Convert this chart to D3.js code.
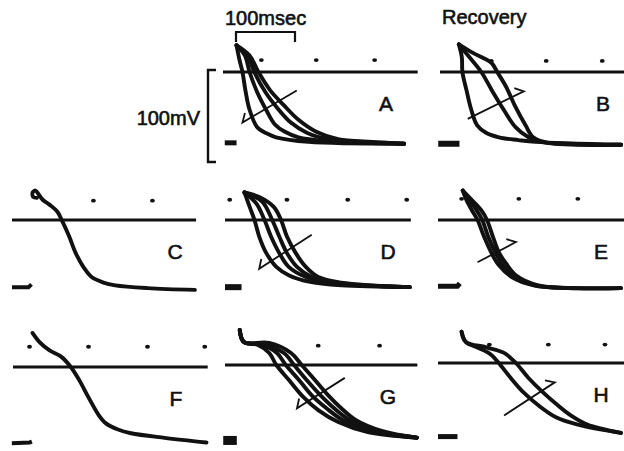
<!DOCTYPE html>
<html>
<head>
<meta charset="utf-8">
<script src="https://cdn.jsdelivr.net/npm/d3@7"></script>
<style>
  html, body { margin: 0; padding: 0; background: #fff; }
  svg { display: block; }
  text { font-family: "Liberation Sans", Arial, sans-serif; fill: #111; stroke: #111; stroke-width: 0.6px; }
</style>
</head>
<body>
<div id="chart"></div>
<script>
// panel names
const panelNames = ["A", "B", "C", "D", "E", "F", "G", "H"];

// action potential traces, [time ms, membrane potential mV]
const tracesA = [
  [[23, 29], [28, 13], [33, 0], [38, -20], [45, -41], [58, -60], [75, -67], [90, -71], [145, -76], [307, -78]],
  [[23, 29], [37, 18], [45, 0], [58, -22], [73, -41], [88, -57], [105, -65], [128, -71], [178, -75], [307, -78]],
  [[23, 29], [42, 17], [53, 0], [72, -22], [92, -39], [115, -55], [142, -66], [178, -73], [245, -76], [307, -78]],
  [[23, 29], [45, 18], [60, 0], [80, -20], [103, -36], [128, -52], [158, -65], [195, -73], [253, -76], [307, -78]]
];
const tracesB = [
  [[32, 30], [37, 16], [38, 0], [45, -20], [53, -41], [63, -58], [78, -66], [100, -71], [133, -74], [162, -76], [307, -79]],
  [[32, 30], [50, 16], [70, 0], [88, -20], [108, -41], [128, -60], [150, -71], [172, -76], [307, -79]],
  [[32, 30], [55, 21], [87, 10], [97, 0], [112, -16], [128, -38], [145, -58], [158, -71], [183, -77], [307, -79]]
];
const tracesC = [
  [[42, 24], [36, 25], [35, 30], [40, 32], [45, 28], [52, 22], [63, 17], [77, 9], [85, -1], [97, -18], [108, -36], [122, -52], [135, -62], [155, -68], [175, -71], [230, -74], [310, -76]]
];
const tracesD = [
  [[33, 30], [42, 14], [50, 0], [58, -18], [70, -36], [87, -51], [108, -60], [142, -67], [197, -71], [313, -73]],
  [[33, 30], [53, 18], [67, 0], [78, -18], [92, -36], [108, -51], [137, -62], [175, -68], [313, -73]],
  [[33, 30], [63, 20], [80, 0], [92, -18], [105, -36], [122, -51], [147, -62], [183, -68], [313, -73]],
  [[33, 30], [58, 25], [83, 14], [95, 0], [105, -18], [120, -36], [137, -51], [158, -62], [197, -68], [313, -73]]
];
const tracesE = [
  [[42, 32], [48, 22], [57, 11], [67, 0], [78, -18], [90, -35], [103, -49], [125, -62], [162, -71], [220, -74], [310, -74]],
  [[42, 32], [52, 22], [65, 11], [75, 0], [85, -18], [97, -35], [110, -49], [128, -61], [165, -71], [228, -74], [310, -74]],
  [[42, 32], [57, 22], [73, 11], [83, 0], [93, -18], [103, -35], [115, -47], [132, -60], [170, -71], [237, -74], [310, -74]]
];
const tracesF = [
  [[33, 37], [45, 27], [62, 18], [82, 11], [98, 0], [112, -14], [128, -33], [145, -52], [157, -61], [178, -68], [200, -72], [257, -77], [328, -82]]
];
const tracesG = [
  [[25, 38], [32, 25], [55, 22], [75, 13], [87, 0], [108, -16], [133, -35], [158, -49], [192, -62], [242, -73], [325, -79]],
  [[25, 38], [32, 25], [62, 22], [88, 13], [103, 0], [125, -16], [147, -33], [172, -47], [200, -60], [250, -72], [325, -79]],
  [[25, 38], [32, 25], [68, 22], [100, 13], [117, 0], [138, -16], [162, -33], [185, -47], [212, -60], [258, -72], [325, -79]],
  [[25, 38], [32, 25], [75, 24], [112, 13], [130, 0], [152, -16], [175, -33], [197, -47], [222, -60], [267, -72], [325, -79]]
];
const tracesH = [
  [[40, 34], [47, 23], [70, 16], [90, 9], [103, 0], [123, -16], [145, -32], [170, -46], [200, -59], [237, -67], [310, -76]],
  [[40, 34], [47, 23], [82, 17], [112, 11], [132, 0], [153, -16], [178, -32], [203, -46], [225, -57], [253, -67], [310, -76]]
];

// timer marks (ms) and their level (mV)
const marksA = [65, 158, 257];
const marksB = [87, 180, 275];
const marksC = [138, 238];
const marksD = [8, 105, 208, 308];
const marksE = [40, 137, 237];
const marksF = [28, 128, 228, 325];
const marksG = [158, 262];
const marksH = [87, 187, 283];
const markLevels = [13, 12, 21, 22, 23, 22, 21, 20];

// resting potential marks at the left of each sweep
const restA = [[3, -77], [23, -77]];
const restB = [[-3, -78], [33, -78]];
const restC = [[0, -73], [28, -73], [33, -70]];
const restD = [[0, -73], [28, -73]];
const restE = [[0, -72], [33, -72], [37, -69]];
const restF = [[-2, -83], [28, -82], [32, -81]];
const restG = [[-3, -82], [20, -82]];
const restH = [[0, -80], [33, -80]];

// arrows: [tail, head]; panels C and F have none
const arrowA = [[125, -20], [33, -55]];
const arrowB = [[47, -51], [142, -21]];
const arrowD = [[147, -16], [58, -53]];
const arrowE = [[67, -46], [132, -24]];
const arrowG = [[203, -14], [122, -47]];
const arrowH = [[112, -57], [198, -21]];

// scale bar values
const timeBar = 100; // msec
const voltBar = 100; // mV

const traces = [tracesA, tracesB, tracesC, tracesD, tracesE, tracesF, tracesG, tracesH];
const marks = [marksA, marksB, marksC, marksD, marksE, marksF, marksG, marksH];
const rests = [restA, restB, restC, restD, restE, restF, restG, restH];
const arrows = [arrowA, arrowB, null, arrowD, arrowE, null, arrowG, arrowH];

// panel placement (pixel origin of t=0, V=0) and sweep length
const layout = [
  { ox: 223, oy: 72, sweep: 330, restW: 5 },
  { ox: 440, oy: 72, sweep: 330, restW: 6 },
  { ox: 12, oy: 220, sweep: 312, restW: 4 },
  { ox: 225, oy: 220, sweep: 315, restW: 6 },
  { ox: 438, oy: 220, sweep: 330, restW: 5 },
  { ox: 13, oy: 367, sweep: 330, restW: 4 },
  { ox: 225, oy: 365, sweep: 326, restW: 9 },
  { ox: 438, oy: 363, sweep: 330, restW: 5 }
];

const width = 624;
const height = 451;

const x = d3.scaleLinear().domain([0, 100]).range([0, 59]);
const y = d3.scaleLinear().domain([0, 100]).range([0, -92]);

const svg = d3
  .select("#chart")
  .append("svg")
  .attr("width", width)
  .attr("height", height);

svg.append("rect").attr("width", width).attr("height", height).attr("fill", "#fff");

const line = d3
  .line()
  .x(d => x(d[0]))
  .y(d => y(d[1]))
  .curve(d3.curveCatmullRom.alpha(0.5));

const straight = d3
  .line()
  .x(d => x(d[0]))
  .y(d => y(d[1]));

panelNames.forEach((name, i) => {
  const L = layout[i];
  const g = svg.append("g").attr("transform", `translate(${L.ox},${L.oy})`);

  // zero potential line
  g.append("line")
    .attr("x1", x(0))
    .attr("x2", x(L.sweep))
    .attr("y1", y(0))
    .attr("y2", y(0))
    .attr("stroke", "#111")
    .attr("stroke-width", 3);

  // timer dots
  g.selectAll("ellipse.mark")
    .data(marks[i])
    .join("ellipse")
    .attr("class", "mark")
    .attr("cx", d => x(d))
    .attr("cy", y(markLevels[i]))
    .attr("rx", 2.4)
    .attr("ry", 1.9)
    .attr("fill", "#111");

  // resting level mark
  g.append("path")
    .attr("d", straight(rests[i]))
    .attr("fill", "none")
    .attr("stroke", "#111")
    .attr("stroke-width", L.restW)
    .attr("stroke-linecap", "butt");

  // traces
  g.selectAll("path.trace")
    .data(traces[i])
    .join("path")
    .attr("class", "trace")
    .attr("d", line)
    .attr("fill", "none")
    .attr("stroke", "#111")
    .attr("stroke-width", 3.9)
    .attr("stroke-linecap", "round")
    .attr("stroke-linejoin", "round");

  // arrow showing the direction of change
  const a = arrows[i];
  if (a) {
    const tx = x(a[0][0]), ty = y(a[0][1]);
    const hx = x(a[1][0]), hy = y(a[1][1]);
    const back = Math.atan2(ty - hy, tx - hx);
    // half arrowhead on the upper side
    const c1 = back + Math.PI / 4, c2 = back - Math.PI / 4;
    const ang = Math.sin(c1) < Math.sin(c2) ? c1 : c2;
    const len = 10;
    g.append("path")
      .attr("d", `M${tx},${ty}L${hx},${hy}L${hx + len * Math.cos(ang)},${hy + len * Math.sin(ang)}`)
      .attr("fill", "none")
      .attr("stroke", "#111")
      .attr("stroke-width", 1.8)
      .attr("stroke-linejoin", "miter");
  }

  // panel letter
  g.append("text")
    .attr("x", 163)
    .attr("y", 31)
    .attr("text-anchor", "middle")
    .attr("dominant-baseline", "central")
    .attr("font-size", 21)
    .text(name);
});

// time scale bar (100 msec)
const tb = svg.append("g").attr("transform", "translate(236,32)");
tb.append("path")
  .attr("d", `M0,10V0H${x(timeBar)}V10`)
  .attr("fill", "none")
  .attr("stroke", "#111")
  .attr("stroke-width", 2.2);
svg.append("text")
  .attr("x", 225)
  .attr("y", 25)
  .attr("font-size", 20)
  .text("100msec");

// voltage scale bar (100 mV)
const vb = svg.append("g").attr("transform", "translate(208,162)");
vb.append("path")
  .attr("d", `M8,0H0V${y(voltBar)}H8`)
  .attr("fill", "none")
  .attr("stroke", "#111")
  .attr("stroke-width", 2.4);
svg.append("text")
  .attr("x", 200)
  .attr("y", 118)
  .attr("text-anchor", "end")
  .attr("dominant-baseline", "central")
  .attr("font-size", 20)
  .text("100mV");

svg.append("text")
  .attr("x", 442)
  .attr("y", 24)
  .attr("font-size", 20)
  .text("Recovery");
</script>
</body>
</html>
